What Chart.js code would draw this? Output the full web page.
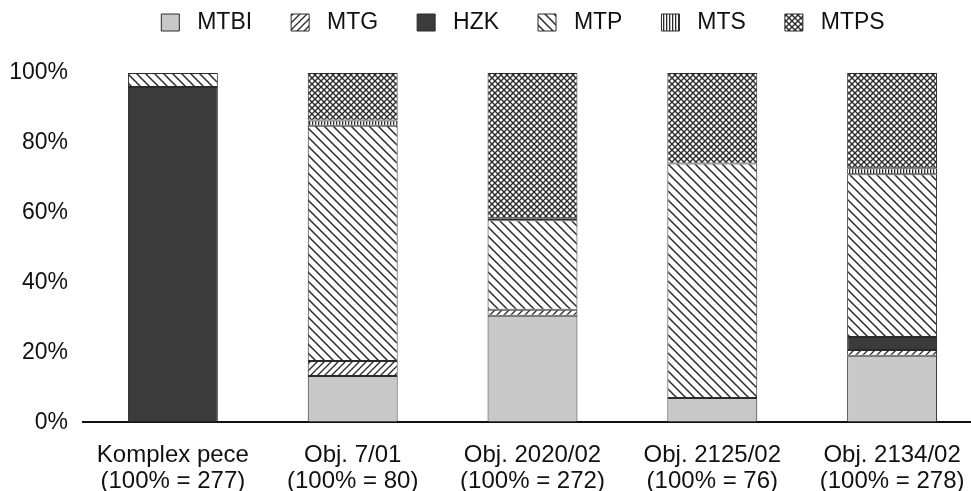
<!DOCTYPE html>
<html><head><meta charset="utf-8">
<script src="https://cdn.jsdelivr.net/npm/chart.js@4"></script>
<style>
html,body{margin:0;padding:0;background:#fff;overflow:hidden}
#wrap{width:982px;height:491px;position:relative}
</style></head>
<body>
<div id="wrap"><canvas id="c"></canvas></div>
<script>
// categories (two-line labels) and stacked shares in %
const cats=[['Komplex pece','(100% = 277)'],['Obj. 7/01','(100% = 80)'],['Obj. 2020/02','(100% = 272)'],['Obj. 2125/02','(100% = 76)'],['Obj. 2134/02','(100% = 278)']];
const names=['MTBI','MTG','HZK','MTP','MTS','MTPS'];
const MTBI=[0,13.2,30.5,6.9,19.0];
const MTG =[0,4.3,1.7,0,1.7];
const HZK =[96,0,0,0,3.7];
const MTP =[4,67.4,25.6,67.2,46.6];
const MTS =[0,1.5,0.6,0,1.7];
const MTPS=[0,13.6,41.6,25.9,27.3];
const yTicks=[0,20,40,60,80,100];

(function(){
  const INK='#2a2a2a';
  // small tile -> CanvasPattern
  function tile(w,h,draw){const t=document.createElement('canvas');t.width=w;t.height=h;const g=t.getContext('2d');g.fillStyle='#fff';g.fillRect(0,0,w,h);g.strokeStyle=INK;g.fillStyle=INK;draw(g,w,h);return g.createPattern(t,'repeat');}
  const fwd=tile(7,7,(g,w,h)=>{g.lineWidth=1.3;g.beginPath();g.moveTo(-1,h+1);g.lineTo(w+1,-1);g.moveTo(-1,1);g.lineTo(1,-1);g.moveTo(w-1,h+1);g.lineTo(w+1,h-1);g.stroke();});
  const back=tile(9,9,(g,w,h)=>{g.lineWidth=1.5;g.beginPath();g.moveTo(-1,-1);g.lineTo(w+1,h+1);g.moveTo(w-1,-1);g.lineTo(w+1,1);g.moveTo(-1,h-1);g.lineTo(1,h+1);g.stroke();});
  const vert=tile(3,4,(g,w,h)=>{g.fillRect(0,0,1.3,h);});
  const cross=tile(6,6,(g,w,h)=>{g.lineWidth=1.4;g.beginPath();g.moveTo(0,0);g.lineTo(w,h);g.moveTo(w,0);g.lineTo(0,h);g.stroke();});
  const fills=['#c8c8c8',fwd,'#3b3b3b',back,vert,cross];
  const series=[MTBI,MTG,HZK,MTP,MTS,MTPS];

  const datasets=names.map((n,i)=>({label:n,data:series[i],backgroundColor:fills[i],borderColor:INK,borderWidth:1,borderSkipped:false,barPercentage:1,categoryPercentage:0.5}));
  const FAM='"Liberation Sans", Arial, sans-serif';

  // legend: fixed block height so the plot starts where the reference does, shifted right a bit
  const legendTweak={id:'legendTweak',beforeInit(chart){
    const L=chart.legend;if(!L)return;
    const f=L.fit;L.fit=function(){f.call(this);this.height=101;};
    const d=L.draw;L.draw=function(){const c=this.ctx;c.save();c.translate(27,0);d.apply(this,arguments);c.restore();};
  }};

  new Chart(document.getElementById('c'),{type:'bar',data:{labels:cats,datasets},plugins:[legendTweak],
    options:{responsive:true,maintainAspectRatio:false,animation:false,
      layout:{padding:{left:10,right:0,top:-28,bottom:-24}},
      plugins:{tooltip:{enabled:false},
        legend:{position:'top',labels:{color:'#111',font:{family:FAM,size:23},boxWidth:18,boxHeight:17,padding:39,
          generateLabels:ch=>Chart.defaults.plugins.legend.labels.generateLabels(ch).map(l=>Object.assign(l,{text:' '+l.text}))}}},
      scales:{
        x:{stacked:true,grid:{display:false,drawTicks:false},border:{display:true,color:'#111',width:2},
           afterFit:s=>{s.paddingLeft=0;s.paddingRight=0;},
           ticks:{color:'#111',font:{family:FAM,size:24,lineHeight:1.1},padding:20,maxRotation:0,autoSkip:false}},
        y:{stacked:true,min:0,max:100,grid:{display:false,drawTicks:false},border:{display:false},
           afterFit:s=>{s.width=73;},
           afterBuildTicks:s=>{s.ticks=yTicks.map(v=>({value:v}));},
           ticks:{color:'#111',font:{family:FAM,size:23},padding:15,callback:v=>v+'%'}}
      }}});
})();
</script>
</body></html>
